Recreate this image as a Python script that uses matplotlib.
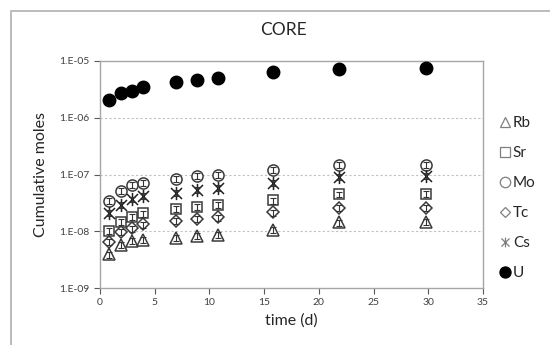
import matplotlib
matplotlib.use("Agg")
import matplotlib.pyplot as plt
from matplotlib.lines import Line2D
from matplotlib.path import Path
from matplotlib.ticker import FixedLocator, FuncFormatter, NullLocator
import numpy as np

plt.rcParams['font.family'] = ['Lato', 'DejaVu Sans']

# Data
time_d = [0.8, 1.9, 2.9, 3.9, 6.9, 8.9, 10.8, 15.8, 21.8, 29.8]
Rb = [3.9e-9, 5.7e-9, 6.7e-9, 7.0e-9, 7.6e-9, 8.3e-9, 8.7e-9, 1.05e-8, 1.43e-8, 1.45e-8]
Sr = [1.0e-8, 1.45e-8, 1.8e-8, 2.06e-8, 2.46e-8, 2.7e-8, 2.9e-8, 3.5e-8, 4.47e-8, 4.5e-8]
Mo = [3.44e-8, 5.1e-8, 6.5e-8, 7.2e-8, 8.3e-8, 9.3e-8, 9.9e-8, 1.2e-7, 1.47e-7, 1.5e-7]
Tc = [6.4e-9, 9.6e-9, 1.12e-8, 1.32e-8, 1.5e-8, 1.66e-8, 1.75e-8, 2.15e-8, 2.6e-8, 2.6e-8]
Cs = [2.1e-8, 2.9e-8, 3.65e-8, 4.2e-8, 4.7e-8, 5.3e-8, 5.8e-8, 7.0e-8, 9.1e-8, 9.5e-8]
U = [2.07e-6, 2.72e-6, 3.0e-6, 3.46e-6, 4.2e-6, 4.7e-6, 5.1e-6, 6.4e-6, 7.3e-6, 7.5e-6]
rel_err = 0.12  # relative uncertainty shown as small error bars

series_names = ["Rb", "Sr", "Mo", "Tc", "Cs", "U"]
series_vals = [Rb, Sr, Mo, Tc, Cs, U]
x_ticks = [0, 5, 10, 15, 20, 25, 30, 35]
y_ticks = [1e-9, 1e-8, 1e-7, 1e-6, 1e-5]

# Excel-like star marker: X plus a vertical stroke
star = Path([(-1, -1), (1, 1), (-1, 1), (1, -1), (0, -1.2), (0, 1.2)],
            [Path.MOVETO, Path.LINETO, Path.MOVETO, Path.LINETO, Path.MOVETO, Path.LINETO])

styles = {
    "Rb": dict(marker="^", ms=9.0, mfc="white", mec="#3a3a3a", mew=1.1),
    "Sr": dict(marker="s", ms=7.5, mfc="white", mec="#3a3a3a", mew=1.1),
    "Mo": dict(marker="o", ms=8.0, mfc="white", mec="#3a3a3a", mew=1.1),
    "Tc": dict(marker="D", ms=5.8, mfc="white", mec="#3a3a3a", mew=1.1),
    "Cs": dict(marker=star, ms=9.5, mfc="none", mec="#222222", mew=1.1),
    "U": dict(marker="o", ms=9.0, mfc="black", mec="black", mew=1.0),
}

fig = plt.figure(figsize=(5.5, 3.45), dpi=100)
# outer chart frame
fig.patches.append(plt.Rectangle((11/550, -0.1), 1.2, 1 - 11/345 + 0.1,
                                 transform=fig.transFigure, fill=False,
                                 edgecolor="#b0b0b0", lw=1.2))
ax = fig.add_axes([100/550, (345-288)/345, 383/550, 227/345])

for name, vals in zip(series_names, series_vals):
    st = styles[name]
    v = np.array(vals)
    if name != "U":
        ax.errorbar(time_d, v, yerr=v*rel_err, fmt="none", ecolor="#333333",
                    elinewidth=0.8, capsize=2, capthick=0.8, zorder=3)
    ax.plot(time_d, v, linestyle="none", zorder=2 if name != "U" else 4, **st)

ax.set_yscale("log")
ax.set_xlim(0, 35)
ax.set_ylim(1e-9, 1e-5)
ax.xaxis.set_major_locator(FixedLocator(x_ticks))
ax.yaxis.set_major_locator(FixedLocator(y_ticks))
ax.yaxis.set_minor_locator(NullLocator())
ax.yaxis.set_major_formatter(FuncFormatter(lambda v, p: "1.E%03d" % int(round(np.log10(v)))))
ax.tick_params(axis="both", labelsize=7.5, colors="#595959", length=4, width=0.8,
               direction="out")
ax.tick_params(axis="both", labelcolor="#404040")
for sp in ax.spines.values():
    sp.set_color("#a6a6a6")
    sp.set_linewidth(1.0)
for yv in [1e-8, 1e-7, 1e-6]:
    ax.axhline(yv, color="#c0c0c0", lw=0.8, ls=(0, (2, 2)), zorder=0)

ax.set_xlabel("time (d)", fontsize=11.5, color="#262626", labelpad=4)
ax.set_ylabel("Cumulative moles", fontsize=11.5, color="#262626", labelpad=8)
fig.text(283/550, 1 - 30/345, "CORE", ha="center", va="center", fontsize=12.5,
         color="#262626")

handles = []
leg_styles = {
    "Rb": dict(marker="^", ms=7, mfc="white", mec="#7f7f7f"),
    "Sr": dict(marker="s", ms=7, mfc="white", mec="#7f7f7f"),
    "Mo": dict(marker="o", ms=7.5, mfc="white", mec="#7f7f7f"),
    "Tc": dict(marker="D", ms=5, mfc="white", mec="#7f7f7f"),
    "Cs": dict(marker=star, ms=7, mfc="none", mec="#7f7f7f"),
    "U": dict(marker="o", ms=8, mfc="black", mec="black"),
}
for name in series_names:
    handles.append(Line2D([], [], linestyle="none", mew=0.9, **leg_styles[name]))
fig.legend(handles, series_names, loc="center left",
           bbox_to_anchor=(490/550, 1 - 198/345), frameon=False, fontsize=11,
           handletextpad=-0.1, labelspacing=1.05, handlelength=1.2,
           labelcolor="#262626", borderaxespad=0)

fig.savefig("out.png", dpi=100)
